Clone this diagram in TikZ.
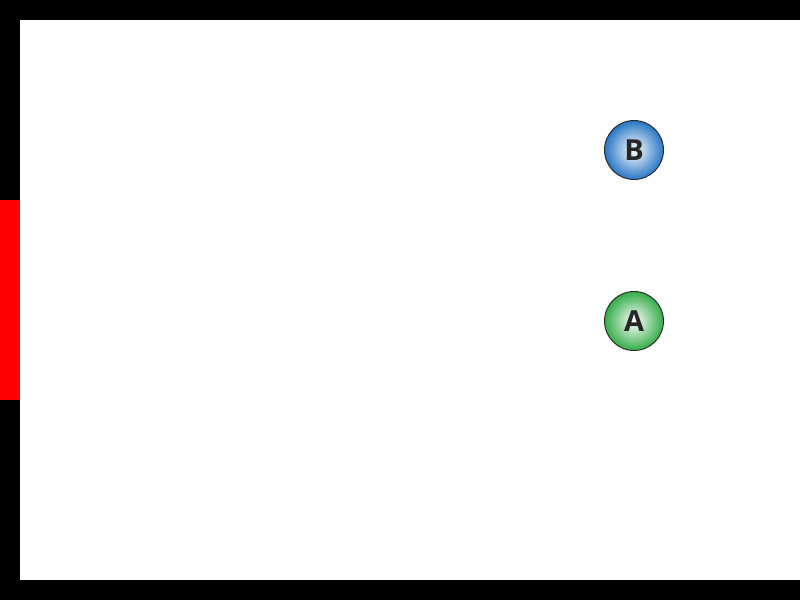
\documentclass[tikz,border=0pt]{standalone}
\usepackage{fontspec}
\setsansfont{Open Sans}
\usetikzlibrary{calc}
\definecolor{ballblue}{RGB}{40,118,196}
\definecolor{ballgreen}{RGB}{52,172,72}
\tikzset{ball/.style={circle,draw=black!85,line width=.9pt,minimum size=59pt,inner sep=0pt,font=\sffamily\bfseries\fontsize{29}{29}\selectfont,text=black!85}}

\begin{document}
\begin{tikzpicture}[x=1pt,y=-1pt]
\useasboundingbox (0,0) rectangle (800,600);
\fill[white] (0,0) rectangle (800,600);
\fill[black] (0,0) rectangle (800,20); \fill[black] (0,580) rectangle (800,600); \fill[black] (0,0) rectangle (20,600);
\fill[red] (0,200) rectangle (20,400);
\node[ball,inner color=white,outer color=ballblue] (B) at (634,150) {B};
\node[ball,inner color=white,outer color=ballgreen] (A) at (634,321) {A};
\end{tikzpicture}
\end{document}
